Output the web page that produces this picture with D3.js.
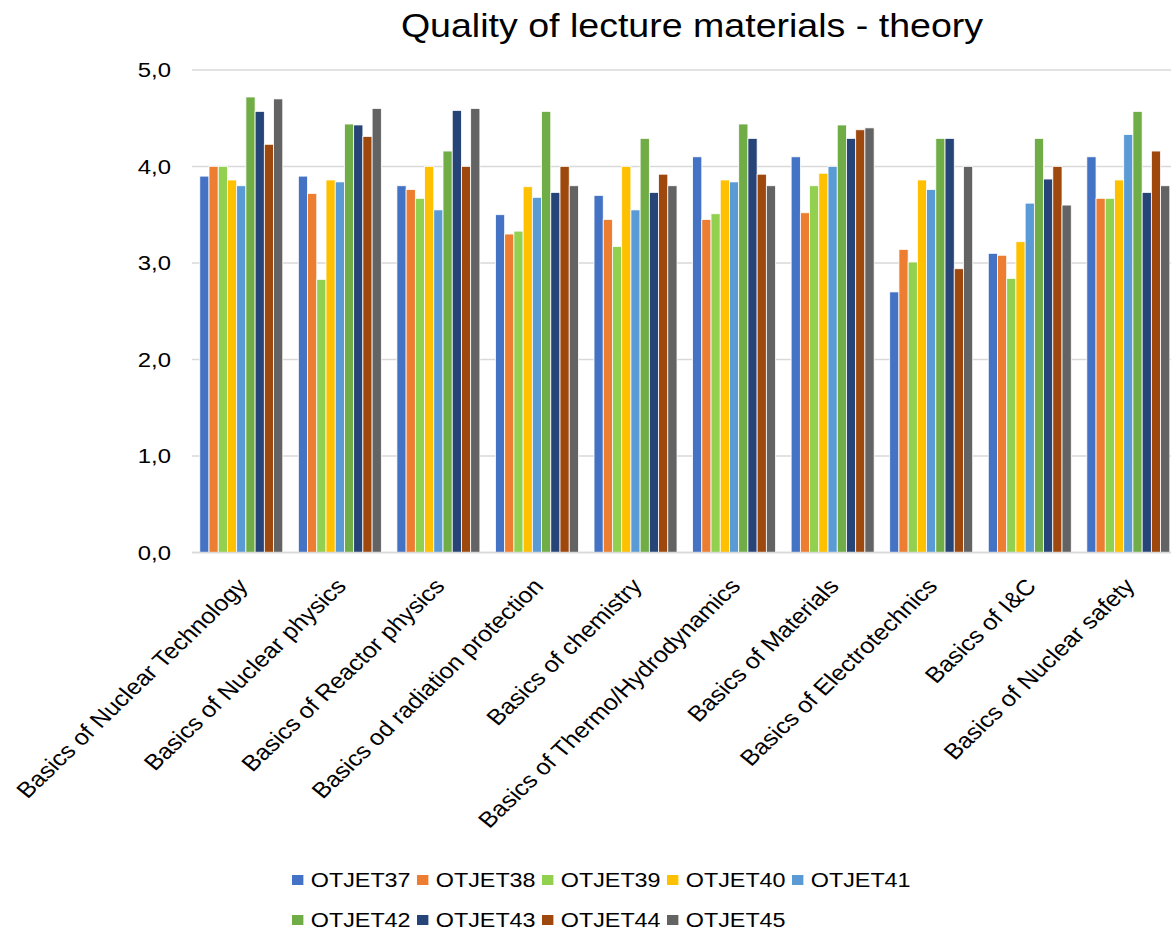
<!DOCTYPE html>
<html>
<head>
<meta charset="utf-8">
<script src="https://cdn.jsdelivr.net/npm/d3@7"></script>
<style>
  html, body { margin: 0; padding: 0; background: #fff; }
  svg { display: block; font-family: "Liberation Sans", Arial, sans-serif; }
</style>
</head>
<body>
<svg id="chart" width="1171" height="932"></svg>
<script>
const title = "Quality of lecture materials - theory";
const categories = [
  "Basics of Nuclear Technology",
  "Basics of Nuclear physics",
  "Basics of Reactor physics",
  "Basics od radiation protection",
  "Basics of chemistry",
  "Basics of Thermo/Hydrodynamics",
  "Basics of Materials",
  "Basics of Electrotechnics",
  "Basics of I&C",
  "Basics of Nuclear safety"
];
const seriesNames = ["OTJET37","OTJET38","OTJET39","OTJET40","OTJET41","OTJET42","OTJET43","OTJET44","OTJET45"];
const seriesColors = ["#4472C4","#ED7D31","#92D050","#FFC000","#5B9BD5","#70AD47","#264478","#9E480E","#636363"];
const OTJET37 = [3.90, 3.90, 3.80, 3.50, 3.70, 4.10, 4.10, 2.70, 3.10, 4.10];
const OTJET38 = [4.00, 3.72, 3.76, 3.30, 3.45, 3.45, 3.52, 3.14, 3.08, 3.67];
const OTJET39 = [4.00, 2.83, 3.67, 3.33, 3.17, 3.51, 3.80, 3.01, 2.84, 3.67];
const OTJET40 = [3.86, 3.86, 4.00, 3.79, 4.00, 3.86, 3.93, 3.86, 3.22, 3.86];
const OTJET41 = [3.80, 3.84, 3.55, 3.68, 3.55, 3.84, 4.00, 3.76, 3.62, 4.33];
const OTJET42 = [4.72, 4.44, 4.16, 4.57, 4.29, 4.44, 4.43, 4.29, 4.29, 4.57];
const OTJET43 = [4.57, 4.43, 4.58, 3.73, 3.73, 4.29, 4.29, 4.29, 3.87, 3.73];
const OTJET44 = [4.23, 4.31, 4.00, 4.00, 3.92, 3.92, 4.38, 2.94, 4.00, 4.16];
const OTJET45 = [4.70, 4.60, 4.60, 3.80, 3.80, 3.80, 4.40, 4.00, 3.60, 3.80];
const seriesValues = [OTJET37, OTJET38, OTJET39, OTJET40, OTJET41, OTJET42, OTJET43, OTJET44, OTJET45];
const yTicks = [0, 1, 2, 3, 4, 5];

// The reference is horizontally stretched; draw in an inner coordinate space and stretch it.
const SX = 1.138;
const svg = d3.select("#chart");
const g = svg.append("g").attr("transform", `scale(${SX},1)`);

const plot = { left: 192 / SX, right: 1177.6 / SX, top: 70, bottom: 552.5 };

const x0 = d3.scaleBand().domain(categories).range([plot.left, plot.right]).paddingInner(0).paddingOuter(0);
const x1 = d3.scaleBand().domain(seriesNames)
  .range([x0.bandwidth() * 0.079, x0.bandwidth() * 0.921]).padding(0);
const y = d3.scaleLinear().domain([0, 5]).range([plot.bottom, plot.top]);

// gridlines
g.append("g").selectAll("line").data(yTicks).join("line")
  .attr("x1", plot.left).attr("x2", plot.right)
  .attr("y1", d => y(d)).attr("y2", d => y(d))
  .attr("stroke", "#d9d9d9").attr("stroke-width", 1.5);

// y axis labels
const yAxis = d3.axisLeft(y).tickValues(yTicks).tickSize(0).tickPadding(0)
  .tickFormat(d => d3.format(".1f")(d).replace(".", ","));
const ya = g.append("g").attr("transform", `translate(${171 / SX},0)`).call(yAxis);
ya.select(".domain").remove();
ya.selectAll("text").attr("font-size", 21).attr("fill", "#000")
  .attr("font-family", "Liberation Sans, Arial, sans-serif");

// bars
const groups = g.append("g").selectAll("g").data(categories).join("g")
  .attr("transform", d => `translate(${x0(d)},0)`);
groups.selectAll("rect")
  .data((c, ci) => seriesNames.map((s, si) => ({ s, si, v: seriesValues[si][ci] })))
  .join("rect")
  .attr("x", d => x1(d.s))
  .attr("width", x1.bandwidth())
  .attr("y", d => y(d.v))
  .attr("height", d => y(0) - y(d.v))
  .attr("fill", d => seriesColors[d.si])
  .attr("stroke", "#fff").attr("stroke-width", 0.7);

// baseline
g.append("line").attr("x1", plot.left).attr("x2", plot.right)
  .attr("y1", y(0)).attr("y2", y(0)).attr("stroke", "#d9d9d9").attr("stroke-width", 1.5);

// x labels
g.append("g").selectAll("text").data(categories).join("text")
  .attr("transform", d => `translate(${x0(d) + x0.bandwidth() / 2 + 1},${582}) rotate(-47.5)`)
  .attr("text-anchor", "end").attr("dy", "0.35em")
  .attr("font-size", 22).attr("fill", "#000")
  .text(d => d);

// title
g.append("text").attr("x", 692 / SX).attr("y", 37).attr("text-anchor", "middle")
  .attr("font-size", 33).attr("fill", "#000").text(title);

// legend
const legRows = [seriesNames.slice(0, 5), seriesNames.slice(5)];
const legendY = [880, 920];
legRows.forEach((row, ri) => {
  const lg = g.append("g");
  const items = lg.selectAll("g").data(row).join("g")
    .attr("transform", (d, i) => `translate(${(292 + i * 125) / SX},${legendY[ri]})`);
  items.append("rect").attr("x", 0).attr("y", -5).attr("width", 10).attr("height", 10)
    .attr("fill", d => seriesColors[seriesNames.indexOf(d)]);
  items.append("text").attr("x", 16.5).attr("dy", "0.36em")
    .attr("font-size", 20.5).attr("fill", "#000").text(d => d);
});
</script>
</body>
</html>
